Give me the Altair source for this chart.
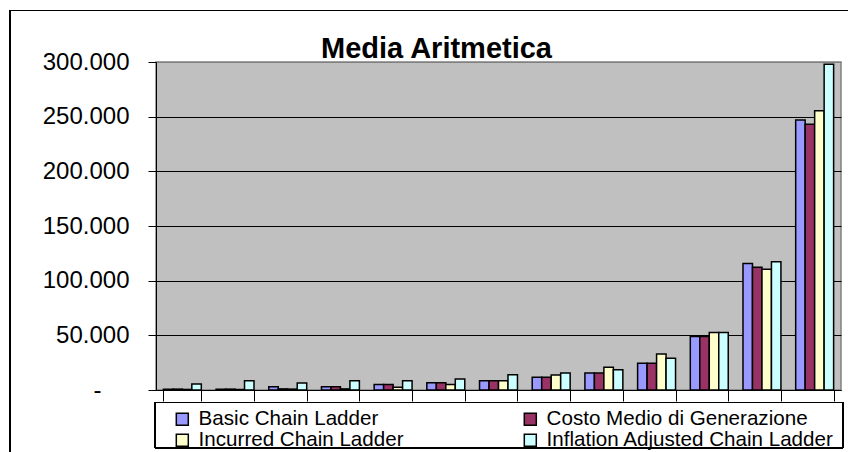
import altair as alt
import pandas as pd

# Thirteen groups of claims, four reserving methods each (values in euro)
groups = [str(i) for i in range(1, 14)]
methods = [
    "Basic Chain Ladder",
    "Costo Medio di Generazione",
    "Incurred Chain Ladder",
    "Inflation Adjusted Chain Ladder",
]
basic_cl = [800, 800, 3000, 3000, 5000, 6700, 8500, 11600, 15500, 24400, 49000, 115800, 247000]
costo_medio = [800, 800, 1000, 3000, 5000, 6700, 8500, 11600, 15500, 24400, 49000, 112200, 243000]
incurred_cl = [500, 500, 800, 1000, 2500, 5000, 8500, 13700, 20700, 33000, 52500, 110400, 255500]
inflation_cl = [5500, 8500, 6500, 8500, 8500, 10000, 14000, 15500, 18600, 29000, 52500, 117300, 298000]
colors = ["#9999FF", "#993366", "#FFFFCC", "#CCFFFF"]
chart_title = "Media Aritmetica"

rows = []
for method, series in zip(methods, [basic_cl, costo_medio, incurred_cl, inflation_cl]):
    for g, v in zip(groups, series):
        rows.append({"gruppo": g, "metodo": method, "valore": v})
df = pd.DataFrame(rows)

W, H = 685, 328
FONT = "Liberation Sans"

bars = alt.Chart(df).mark_bar(stroke="black", strokeWidth=1.5).encode(
    x=alt.X(
        "gruppo:N",
        sort=groups,
        title=None,
        scale=alt.Scale(paddingInner=0.28, paddingOuter=0.14),
        axis=alt.Axis(
            labels=False,
            tickBand="extent",
            tickSize=11,
            tickColor="black",
            domainColor="black",
            grid=False,
        ),
    ),
    xOffset=alt.XOffset("metodo:N", sort=methods, scale=alt.Scale(paddingInner=0)),
    y=alt.Y(
        "valore:Q",
        title=None,
        scale=alt.Scale(domain=[0, 300000], nice=False),
        axis=alt.Axis(
            values=[0, 50000, 100000, 150000, 200000, 250000, 300000],
            labelExpr="datum.value == 0 ? '-' : replace(format(datum.value, ',.0f'), ',', '.')",
            labelFontSize=24,
            labelFont=FONT,
            labelColor="black",
            labelPadding=alt.condition(alt.datum.value == 0, alt.value(47), alt.value(19)),
            tickSize=8,
            tickColor="black",
            domainColor="black",
            gridColor=alt.condition(alt.datum.value == 300000, alt.value("#808080"), alt.value("black")),
            gridWidth=1,
        ),
    ),
    color=alt.Color(
        "metodo:N",
        sort=methods,
        scale=alt.Scale(domain=methods, range=colors),
        legend=alt.Legend(
            title=None,
            orient="none",
            legendX=16,
            legendY=347,
            direction="horizontal",
            columns=2,
            columnPadding=116,
            rowPadding=-1,
            symbolType="square",
            symbolSize=144,
            symbolStrokeColor="black",
            symbolStrokeWidth=1.5,
            symbolOpacity=1,
            labelFontSize=20.6,
            labelFont=FONT,
            labelColor="black",
            labelOffset=6,
            labelLimit=500,
        ),
    ),
)

# Chart title, centred over the chart area
title = alt.Chart(pd.DataFrame({"t": [chart_title]})).mark_text(
    font=FONT, fontSize=29, fontWeight="bold", color="black",
    align="center", baseline="alphabetic",
).encode(text="t:N", x=alt.value(280.5), y=alt.value(-3.7))

# Box around the legend
legend_box = alt.Chart(df).mark_rect(fill=None, stroke="black", strokeWidth=1).encode(
    x=alt.value(-1), x2=alt.value(687), y=alt.value(340.5), y2=alt.value(386)
)

# Chart-area frame (left and top edges)
frame = alt.Chart(df).mark_rect(fill=None, stroke="black", strokeWidth=1.2).encode(
    x=alt.value(-146), x2=alt.value(720), y=alt.value(-51.5), y2=alt.value(420)
)

chart = (
    alt.layer(frame, bars, legend_box, title)
    .properties(
        width=W,
        height=H,
        autosize=alt.AutoSizeParams(type="none"),
        padding={"left": 156, "top": 62, "right": 7, "bottom": 62},
        background="white",
    )
    .configure_view(fill="#C0C0C0", stroke="#808080", strokeWidth=1.5)
)

chart.save("out.html", embed_options={"renderer": "svg", "actions": False})
